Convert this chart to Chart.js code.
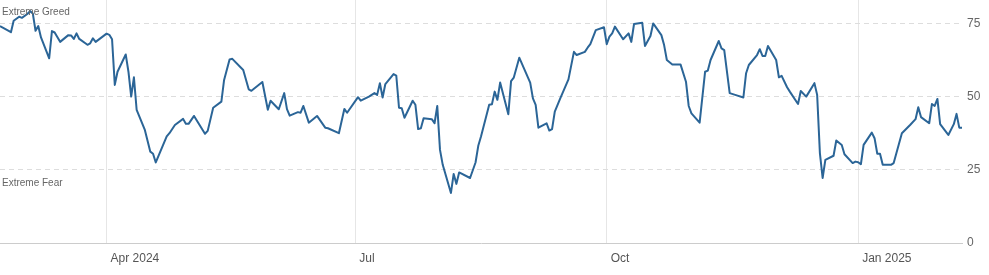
<!DOCTYPE html>
<html>
<head>
<meta charset="utf-8">
<script src="https://cdn.jsdelivr.net/npm/chart.js@4.4.1/dist/chart.umd.min.js"></script>
<style>
  html, body { margin: 0; padding: 0; background: #fff; }
</style>
</head>
<body>
<canvas id="chart" width="989" height="275"></canvas>
<script>
// days counted from startDate
const startDate = '2024-02-22';
const days = [
  0, 4, 5, 7, 8, 10, 11, 12, 13, 14, 15, 18, 19, 20, 22, 25, 26, 27, 28, 29,
  32, 33, 34, 35, 39, 40, 41, 42, 43, 46, 47, 48, 49, 50, 53, 55, 56, 57, 61, 62,
  64, 67, 68, 69, 71, 75, 76, 78, 81, 82, 84, 85, 89, 91, 92, 96, 98, 99, 102, 104,
  105, 106, 109, 110, 111, 113, 116, 119, 120, 124, 126, 127, 131, 132, 135, 137, 138, 139, 140, 141,
  144, 145, 146, 147, 148, 151, 152, 153, 154, 155, 158, 159, 160, 161, 162, 165, 166, 167, 168, 172,
  174, 175, 176, 179, 180, 181, 182, 183, 186, 187, 188, 190, 194, 195, 196, 197, 200, 201, 202, 203,
  205, 208, 210, 211, 214, 215, 216, 218, 221, 222, 223, 224, 225, 228, 230, 231, 232, 235, 236, 238,
  239, 242, 243, 244, 246, 249, 251, 252, 253, 256, 258, 259, 260, 263, 264, 265, 267, 269, 272, 273,
  274, 277, 278, 279, 280, 281, 284, 285, 286, 288, 289, 292, 293, 295, 298, 299, 300, 301, 302, 305,
  306, 308, 309, 312, 313, 314, 315, 316, 319, 320, 321, 322, 323, 326, 327, 330, 333, 335, 336, 337,
  340, 341, 342, 343, 344, 347, 349, 350, 351, 352
];
const values = [
  74.1, 72.0, 75.9, 77.3, 76.9, 78.2, 79.2, 78.4, 72.5, 74.1, 70.2, 63.1, 72.4, 71.9, 68.7, 71.0, 70.9, 69.7, 71.6, 69.7,
  67.7, 68.2, 69.9, 68.7, 71.5, 71.1, 69.6, 54.0, 58.5, 64.4, 58.5, 50.0, 56.6, 45.5, 38.6, 31.2, 30.5, 27.5, 36.4, 37.5,
  40.3, 42.4, 40.7, 40.7, 43.4, 37.3, 38.3, 46.2, 48.3, 55.7, 62.7, 62.9, 59.1, 52.5, 52.0, 55.0, 45.5, 48.6, 45.7, 51.2,
  45.7, 43.5, 44.7, 44.5, 46.8, 41.1, 43.4, 39.4, 39.2, 37.5, 45.8, 44.5, 49.8, 48.6, 50.0, 51.2, 50.6, 54.6, 49.7, 54.3,
  57.7, 57.2, 46.2, 46.0, 42.8, 48.6, 47.2, 38.9, 39.2, 42.6, 42.3, 40.9, 46.8, 31.8, 26.7, 17.1, 23.6, 20.2, 24.1, 22.2,
  27.5, 33.2, 36.4, 47.2, 47.4, 51.7, 48.9, 54.8, 44.0, 55.3, 56.5, 63.3, 54.8, 49.4, 47.2, 39.4, 40.9, 38.4, 38.9, 44.9,
  49.4, 55.9, 65.3, 64.2, 65.3, 66.7, 67.9, 72.7, 73.7, 67.9, 70.5, 71.6, 73.9, 69.6, 71.6, 68.7, 74.8, 75.2, 67.3, 70.7,
  75.0, 71.0, 67.6, 62.5, 61.0, 61.0, 55.1, 46.8, 44.3, 41.1, 58.5, 58.9, 62.5, 69.0, 66.5, 65.9, 51.2, 50.6, 49.7, 58.0,
  60.8, 64.2, 66.2, 63.9, 63.9, 67.3, 62.5, 56.6, 57.1, 53.2, 51.7, 47.5, 51.9, 50.0, 54.6, 50.6, 30.7, 22.2, 28.4, 29.8,
  35.0, 33.5, 30.3, 27.3, 27.8, 27.6, 26.9, 33.5, 37.7, 35.8, 30.5, 30.5, 26.7, 26.7, 27.3, 37.5, 40.3, 42.3, 46.4, 43.0,
  40.9, 47.5, 46.8, 49.2, 40.6, 36.9, 40.6, 44.1, 39.4, 39.4
];
const tickDates = ['2024-04-01', '2024-07-01', '2024-10-01', '2025-01-01'];
const tickLabels = ['Apr 2024', 'Jul', 'Oct', 'Jan 2025'];
const yTicks = [0, 25, 50, 75];
const zoneLabels = ['Extreme Greed', 'Extreme Fear'];

const dayMs = 24 * 3600 * 1000;
function dayOf(s) { return Math.round((Date.parse(s + 'T00:00:00Z') - Date.parse(startDate + 'T00:00:00Z')) / dayMs); }
const tickDays = tickDates.map(dayOf);
const points = days.map((d, i) => ({ x: d, y: values[i] }));

const FONT = '"Liberation Sans", Arial, sans-serif';

// texte Extreme Greed / Extreme Fear
const zonePlugin = {
  id: 'zones',
  afterDraw(chart) {
    const ctx = chart.ctx;
    const ys = chart.scales.y;
    ctx.save();
    ctx.font = '10px ' + FONT;
    ctx.fillStyle = '#666';
    ctx.textBaseline = 'middle';
    ctx.textAlign = 'left';
    ctx.fillText(zoneLabels[0], 2, ys.getPixelForValue(75) - 11);
    ctx.fillText(zoneLabels[1], 2, ys.getPixelForValue(25) + 13);
    ctx.restore();
  }
};

// pas de marge autour de la zone du graphe
function noPad(s) {
  s.paddingTop = 0; s.paddingBottom = 0; s.paddingLeft = 0; s.paddingRight = 0;
}

new Chart(document.getElementById('chart'), {
  type: 'line',
  plugins: [zonePlugin],
  data: {
    datasets: [{
      data: points,
      borderColor: '#2b6597',
      borderWidth: 2,
      pointRadius: 0,
      tension: 0,
      borderJoinStyle: 'round',
      fill: false
    }]
  },
  options: {
    responsive: false,
    animation: false,
    layout: { padding: 0 },
    plugins: { legend: { display: false }, tooltip: { enabled: false } },
    scales: {
      x: {
        type: 'linear',
        min: 0,
        max: days[days.length - 1],
        afterBuildTicks: (s) => { s.ticks = tickDays.map(v => ({ value: v })); },
        afterFit: (s) => { s.height = 32; noPad(s); },
        ticks: {
          callback: (v) => tickLabels[tickDays.indexOf(v)],
          align: 'start',
          labelOffset: 4,
          padding: 8,
          maxRotation: 0,
          autoSkip: false,
          color: '#555',
          font: { family: FONT, size: 12 }
        },
        grid: { color: '#e6e6e6', drawTicks: false },
        border: { display: true, color: '#cccccc', width: 1 }
      },
      y: {
        position: 'right',
        min: 0,
        max: 83,
        afterBuildTicks: (s) => { s.ticks = yTicks.map(v => ({ value: v })); },
        afterFit: (s) => { s.width = 27; noPad(s); },
        ticks: {
          padding: 5,
          color: '#666',
          font: { family: FONT, size: 12 }
        },
        grid: {
          drawTicks: false,
          color: (c) => (c.tick && c.tick.value === 0) ? 'rgba(0,0,0,0)' : '#dddddd'
        },
        border: { display: false, dash: [5, 4] }
      }
    }
  }
});
</script>
</body>
</html>
